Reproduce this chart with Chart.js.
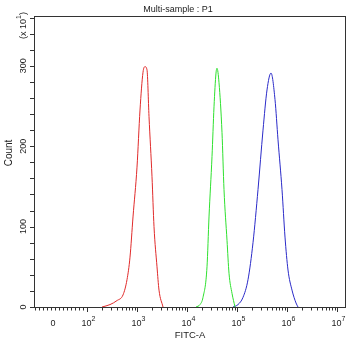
<!DOCTYPE html>
<html>
<head>
<meta charset="utf-8">
<script src="https://cdn.jsdelivr.net/npm/chart.js@4.4.1/dist/chart.umd.min.js"></script>
<style>
  body { margin: 0; background: #fff; }
  canvas { display: block; }
</style>
</head>
<body>
<canvas id="chart" width="350" height="340"></canvas>
<script>
// x positions are in decades of FITC-A (3 means 10^3), y is count
const redX   = [2.30, 2.46, 2.60, 2.72, 2.80, 2.86, 2.92, 3.00, 3.06, 3.12, 3.16, 3.20, 3.24, 3.30, 3.34, 3.40, 3.44, 3.52];
const redY   = [0, 3, 8, 15, 34, 62, 112, 174, 245, 292, 299, 295, 237, 162, 100, 50, 21, 0];
const greenX = [4.18, 4.26, 4.32, 4.40, 4.44, 4.50, 4.54, 4.58, 4.60, 4.64, 4.70, 4.74, 4.80, 4.84, 4.90, 4.96];
const greenY = [0, 3, 12, 50, 112, 187, 249, 291, 297, 279, 217, 146, 83, 42, 17, 0];
const blueX  = [4.92, 5.02, 5.12, 5.22, 5.32, 5.42, 5.52, 5.60, 5.68, 5.76, 5.82, 5.90, 5.96, 6.02, 6.10, 6.18, 6.22];
const blueY  = [0, 3, 12, 34, 80, 146, 220, 270, 291, 258, 208, 146, 87, 46, 21, 5, 0];

const decadeTicks = [2, 3, 4, 5, 6, 7];
const zeroTick = 1.32;
const countTicks = [0, 100, 200, 300];
const xMin = 0.94, xMax = 7.16;
const yMax = 362;

const FONT = '"Liberation Sans", Arial, sans-serif';

function pts(xs, ys) {
  return xs.map((x, i) => ({ x: x, y: ys[i] }));
}

function richText(ctx, parts, cx, cy, angle) {
  ctx.save();
  ctx.translate(cx, cy);
  ctx.rotate(angle);
  let w = 0;
  parts.forEach(p => {
    ctx.font = p.size + 'px ' + FONT;
    p.w = ctx.measureText(p.t).width;
    w += p.w;
  });
  let xx = -w / 2;
  ctx.textAlign = 'left';
  ctx.textBaseline = 'alphabetic';
  parts.forEach(p => {
    ctx.font = p.size + 'px ' + FONT;
    ctx.fillText(p.t, xx, -(p.rise || 0));
    xx += p.w;
  });
  ctx.restore();
}

const axesPlugin = {
  id: 'axes',
  afterDraw(chart) {
    const { ctx, chartArea: a, scales: { x, y } } = chart;
    ctx.save();
    ctx.strokeStyle = '#333';
    ctx.fillStyle = '#222';
    ctx.lineWidth = 1;
    ctx.strokeRect(a.left + 0.5, a.top + 0.5, a.right - a.left, a.bottom - a.top);

    ctx.beginPath();
    // count ticks every 20
    for (let v = 0; v <= yMax; v += 20) {
      const py = Math.round(y.getPixelForValue(v)) + 0.5;
      ctx.moveTo(a.left - 4, py);
      ctx.lineTo(a.left + 0.5, py);
    }
    // linear region ticks below 10^2
    for (let k = 1; k <= 13; k++) {
      const px = Math.round(x.getPixelForValue(2 - k * 0.08)) + 0.5;
      ctx.moveTo(px, a.bottom);
      ctx.lineTo(px, a.bottom + 3.5);
    }
    // log ticks
    for (let d = 2; d <= 7; d++) {
      const px = Math.round(x.getPixelForValue(d)) + 0.5;
      ctx.moveTo(px, a.bottom);
      ctx.lineTo(px, a.bottom + 5);
      if (d < 7) {
        for (let m = 2; m <= 9; m++) {
          const q = Math.round(x.getPixelForValue(d + Math.log10(m))) + 0.5;
          ctx.moveTo(q, a.bottom);
          ctx.lineTo(q, a.bottom + 3.5);
        }
      }
    }
    ctx.stroke();

    // x labels
    richText(ctx, [{ t: '0', size: 9 }], x.getPixelForValue(zeroTick), 326, 0);
    decadeTicks.forEach(d => {
      richText(ctx, [{ t: '10', size: 9 }, { t: String(d), size: 7, rise: 5 }],
        x.getPixelForValue(d) + 1.5, 326, 0);
    });
    richText(ctx, [{ t: 'FITC-A', size: 9.5 }], 190, 337.5, 0);

    // y labels
    countTicks.forEach(v => {
      richText(ctx, [{ t: String(v), size: 9 }], 25.5, y.getPixelForValue(v), -Math.PI / 2);
    });
    richText(ctx, [{ t: '(x 10', size: 9 }, { t: '1', size: 7, rise: 5 }, { t: ')', size: 9 }],
      26, 25.5, -Math.PI / 2);
    richText(ctx, [{ t: 'Count', size: 10 }], 12, 153, -Math.PI / 2);

    // title
    richText(ctx, [{ t: 'Multi-sample : P1', size: 9 }], 178, 12, 0);
    ctx.restore();
  }
};

function series(data, color) {
  return {
    data: data,
    borderColor: color,
    borderWidth: 1,
    pointRadius: 0,
    fill: false,
    cubicInterpolationMode: 'monotone'
  };
}

new Chart(document.getElementById('chart'), {
  type: 'line',
  data: {
    datasets: [
      series(pts(redX, redY), '#e02a2a'),
      series(pts(greenX, greenY), '#2ee02e'),
      series(pts(blueX, blueY), '#2a2ac8')
    ]
  },
  options: {
    responsive: false,
    animation: false,
    devicePixelRatio: 1,
    layout: { padding: { left: 34, right: 5, top: 16, bottom: 33 } },
    plugins: { legend: { display: false }, tooltip: { enabled: false } },
    scales: {
      x: { type: 'linear', min: xMin, max: xMax, display: false },
      y: { type: 'linear', min: 0, max: yMax, display: false }
    }
  },
  plugins: [axesPlugin]
});
</script>
</body>
</html>
